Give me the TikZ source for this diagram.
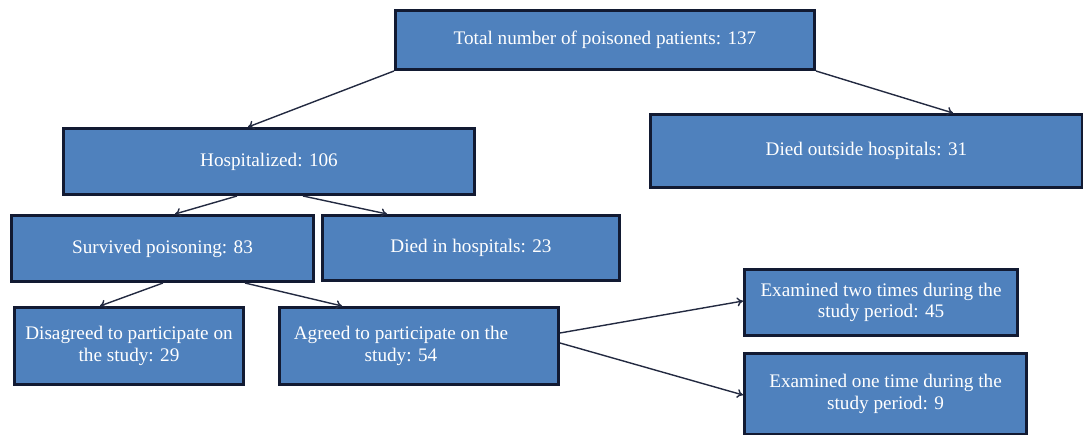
\documentclass[tikz,border=0pt]{standalone}
\usepackage{fontspec}
\setmainfont{Liberation Serif}
\usetikzlibrary{arrows.meta}
\definecolor{boxfill}{RGB}{79,129,189}
\definecolor{boxline}{RGB}{18,26,50}
\definecolor{arrowcol}{RGB}{35,42,65}
\begin{document}
\begin{tikzpicture}[x=1pt,y=-1pt,
  box/.style={draw=boxline, fill=boxfill, line width=3pt, anchor=north west,
    text=white, align=center, inner sep=0pt, font=\fontsize{19.2}{21.5}\selectfont},
  conn/.style={draw=arrowcol, line width=1.4pt, -{To[length=6pt,width=9pt]}}]
\useasboundingbox (0,0) rectangle (1083,435);
\node[box, minimum width=419pt, minimum height=59pt] (total) at (394,9) {Total number of poisoned patients: 137};
\node[box, minimum width=432pt, minimum height=73pt] (out) at (649,113) {Died outside hospitals: 31};
\node[box, minimum width=411pt, minimum height=66pt] (hosp) at (62,127) {Hospitalized: 106};
\node[box, minimum width=302pt, minimum height=66pt] (surv) at (10,214) {Survived poisoning: 83};
\node[box, minimum width=297pt, minimum height=65pt] (dih) at (321,214) {Died in hospitals: 23};
\node[box, minimum width=229pt, minimum height=77pt] (dis) at (13,306) {Disagreed to participate on\\the study: 29};
\node[box, minimum width=279pt, minimum height=77pt] (agr) at (278,306) {};
\node[text=white, align=center, inner sep=0pt, font=\fontsize{19.2}{21.5}\selectfont] (agrtext) at ([xshift=-18pt]agr.center) {Agreed to participate on the\\study: 54};
\node[box, minimum width=273pt, minimum height=66pt] (two) at (743,268) {Examined two times during the\\study period: 45};
\node[box, minimum width=282pt, minimum height=81pt] (one) at (743,352) {Examined one time during the\\study period: 9};

\draw[conn] (total.south west) -- ([xshift=186pt]hosp.north west);
\draw[conn] (total.south east) -- ([xshift=304pt]out.north west);
\draw[conn] ([xshift=175pt]hosp.south west) -- ([xshift=165pt]surv.north west);
\draw[conn] ([xshift=241pt]hosp.south west) -- ([xshift=66pt]dih.north west);
\draw[conn] ([xshift=153pt]surv.south west) -- ([xshift=87pt]dis.north west);
\draw[conn] ([xshift=235pt]surv.south west) -- ([xshift=64pt]agr.north west);
\draw[conn] ([yshift=-27pt]agr.north east) -- ([yshift=-33pt]two.north west);
\draw[conn] ([yshift=-37pt]agr.north east) -- ([yshift=-43pt]one.north west);
\end{tikzpicture}
\end{document}
